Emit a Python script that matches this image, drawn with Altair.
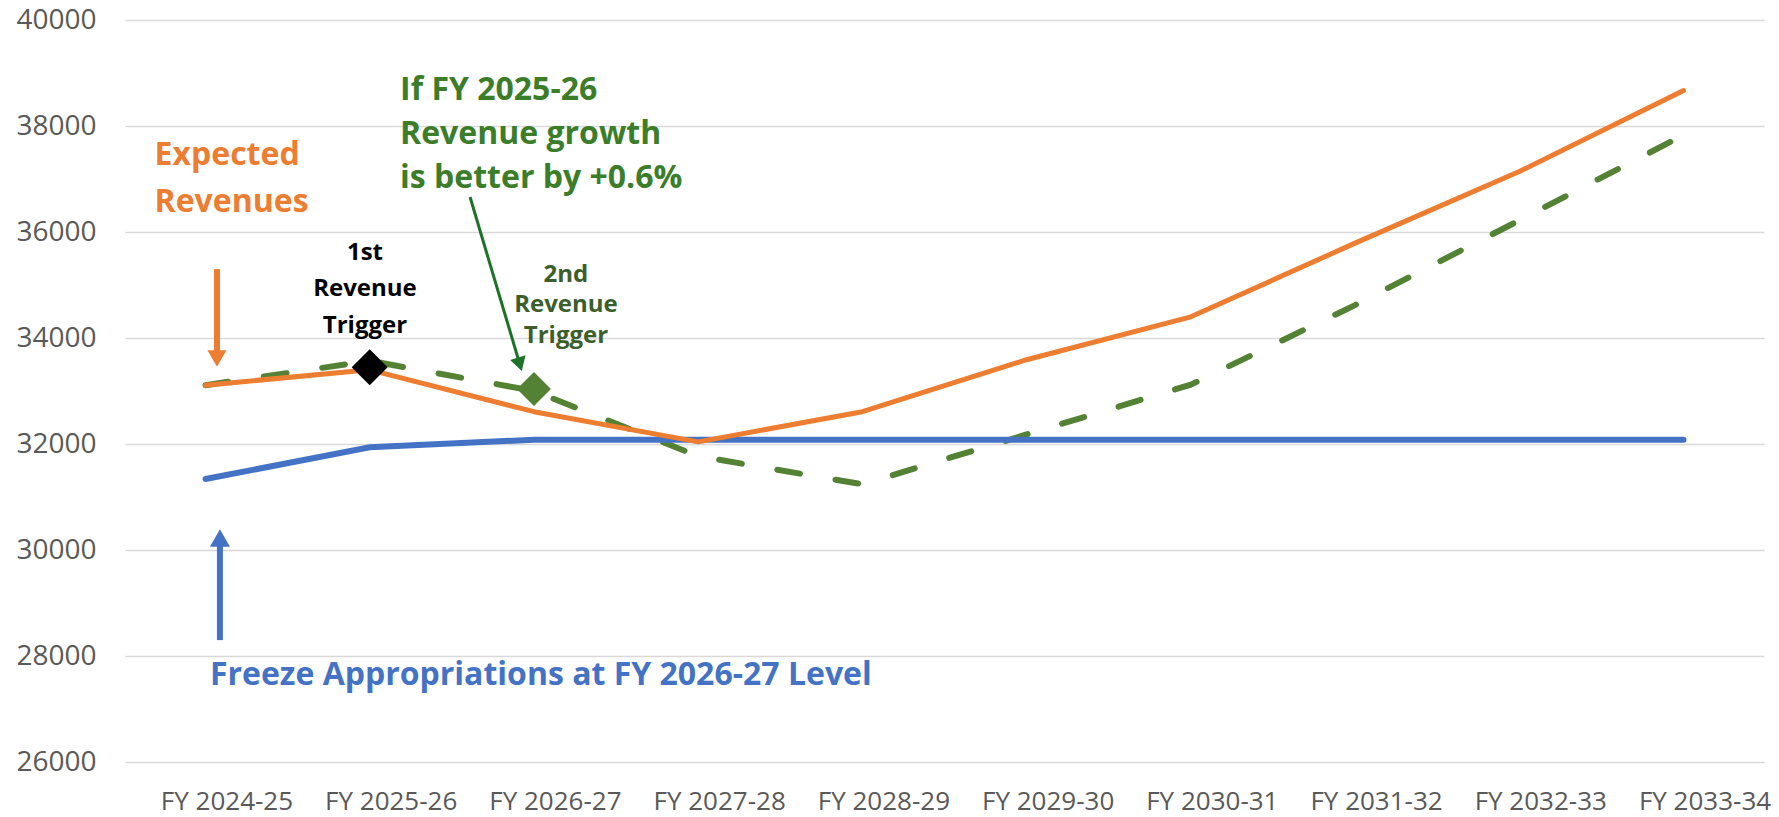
import json
import altair as alt
import pandas as pd

# ---------------- data ----------------
years = ["FY 2024-25", "FY 2025-26", "FY 2026-27", "FY 2027-28", "FY 2028-29",
         "FY 2029-30", "FY 2030-31", "FY 2031-32", "FY 2032-33", "FY 2033-34"]
expected = [33110, 33400, 32610, 32040, 32610, 33590, 34400, 35790, 37140, 38670]
freeze = [31340, 31940, 32080, 32080, 32080, 32080, 32080, 32080, 32080, 32080]
growth = [33110, 33570, 33000, 31770, 31240, 32180, 33120, 34620, 36220, 37830]

trigger1_idx, trigger1_val = 1, 33450
trigger2_idx, trigger2_val = 2, 33040

y_ticks = list(range(26000, 40001, 2000))

# ---------------- styles ----------------
ORANGE = "#ED7D31"
BLUE = "#4472C4"
GREEN = "#548235"
GREEN_TXT = "#3C7D2A"
GREEN_DARK_TXT = "#3B5E2B"
GREEN_ARROW = "#1E7128"
FONT = "Open Sans"

idx = list(range(len(years)))
df_exp = pd.DataFrame({"i": idx, "v": expected})
df_frz = pd.DataFrame({"i": idx, "v": freeze})
df_grw = pd.DataFrame({"i": idx, "v": growth})

xscale = alt.Scale(domain=[-0.49, 9.49], nice=False, zero=False)
yscale = alt.Scale(domain=[26000, 40000], nice=False, zero=False)

label_expr = json.dumps(years) + "[datum.value]"

xaxis = alt.Axis(values=idx, labelExpr=label_expr, title=None, grid=False,
                 domain=False, ticks=False, labelFont=FONT, labelFontSize=26,
                 labelColor="#595959", labelOffset=21, labelPadding=47,
                 labelBaseline="alphabetic", labelFlush=False, labelOverlap=False)
yaxis = alt.Axis(values=y_ticks, format="d", title=None, grid=True,
                 gridColor="#D9D9D9", gridWidth=1.5, domain=False, ticks=False,
                 labelFont=FONT, labelFontSize=28, labelColor="#595959",
                 labelPadding=29)

X = alt.X("i:Q", scale=xscale, axis=xaxis)
Y = alt.Y("v:Q", scale=yscale, axis=yaxis)

line_frz = alt.Chart(df_frz).mark_line(color=BLUE, strokeWidth=6, strokeCap="round").encode(x=X, y=Y)
line_grw = alt.Chart(df_grw).mark_line(color=GREEN, strokeWidth=6, strokeCap="round",
                                       strokeDash=[23, 36]).encode(x=X, y=Y)
line_exp = alt.Chart(df_exp).mark_line(color=ORANGE, strokeWidth=5, strokeCap="round",
                                       strokeJoin="round").encode(x=X, y=Y)

dia1 = alt.Chart(pd.DataFrame({"i": [trigger1_idx], "v": [trigger1_val]})).mark_point(
    shape="diamond", filled=True, size=1296, color="#000000", opacity=1, strokeWidth=0
).encode(x=X, y=Y)
dia2 = alt.Chart(pd.DataFrame({"i": [trigger2_idx], "v": [trigger2_val]})).mark_point(
    shape="diamond", filled=True, size=1156, color=GREEN, opacity=1, strokeWidth=0
).encode(x=X, y=Y)

# ---------------- arrows ----------------
orange_shaft = alt.Chart(pd.DataFrame({"i": [0.07], "v": [35300], "v2": [33700]})).mark_rule(
    color=ORANGE, strokeWidth=6).encode(x=X, y=Y, y2="v2:Q")
orange_head = alt.Chart(pd.DataFrame({"i": [0.07], "v": [33613]})).mark_point(
    shape="triangle-down", filled=True, size=361, color=ORANGE, opacity=1, strokeWidth=0
).encode(x=X, y=Y)

blue_shaft = alt.Chart(pd.DataFrame({"i": [0.088], "v": [28300], "v2": [30150]})).mark_rule(
    color=BLUE, strokeWidth=6).encode(x=X, y=Y, y2="v2:Q")
blue_head = alt.Chart(pd.DataFrame({"i": [0.088], "v": [30226]})).mark_point(
    shape="triangle-up", filled=True, size=400, color=BLUE, opacity=1, strokeWidth=0
).encode(x=X, y=Y)

green_shaft = alt.Chart(pd.DataFrame({"i": [1.611], "v": [36660], "i2": [1.914], "v2": [33504]})).mark_rule(
    color=GREEN_ARROW, strokeWidth=3).encode(x=X, y=Y, x2="i2:Q", y2="v2:Q")
green_head = alt.Chart(pd.DataFrame({"i": [1.914], "v": [33504]})).mark_point(
    shape="triangle-down", filled=True, size=256, angle=343.5, color=GREEN_ARROW,
    opacity=1, strokeWidth=0
).encode(x=X, y=Y)

# ---------------- annotations ----------------
def note(i, v, text, color, size, lh, align):
    return alt.Chart(pd.DataFrame({"i": [i], "v": [v], "t": [text]})).mark_text(
        font=FONT, fontWeight="bold", fontSize=size, color=color, align=align,
        baseline="alphabetic", lineBreak="\n", lineHeight=lh
    ).encode(x=X, y=Y, text="t:N")


t_expected = note(-0.31, 37264, "Expected\nRevenues", ORANGE, 32, 47, "left")
t_growth = note(1.185, 38491, "If FY 2025-26\nRevenue growth\nis better by +0.6%", GREEN_TXT, 32, 44, "left")
t_first = note(0.971, 35472, "1st\nRevenue\nTrigger", "#000000", 24, 36.5, "center")
t_second = note(2.195, 35057, "2nd\nRevenue\nTrigger", GREEN_DARK_TXT, 24, 30.5, "center")
t_freeze = note(0.027, 27453, "Freeze Appropriations at FY 2026-27 Level", BLUE, 32, 40, "left")

chart = alt.layer(
    line_grw, line_frz, line_exp, dia1, dia2,
    orange_shaft, orange_head, blue_shaft, blue_head, green_shaft, green_head,
    t_expected, t_growth, t_first, t_second, t_freeze
).properties(
    width=1639, height=742,
    autosize=alt.AutoSizeParams(type="none"),
    padding={"left": 117, "top": 12, "right": 7, "bottom": 55},
    background="#FFFFFF",
).configure_view(stroke=None)

chart.save("out.html", embed_options={"renderer": "svg", "actions": False})
